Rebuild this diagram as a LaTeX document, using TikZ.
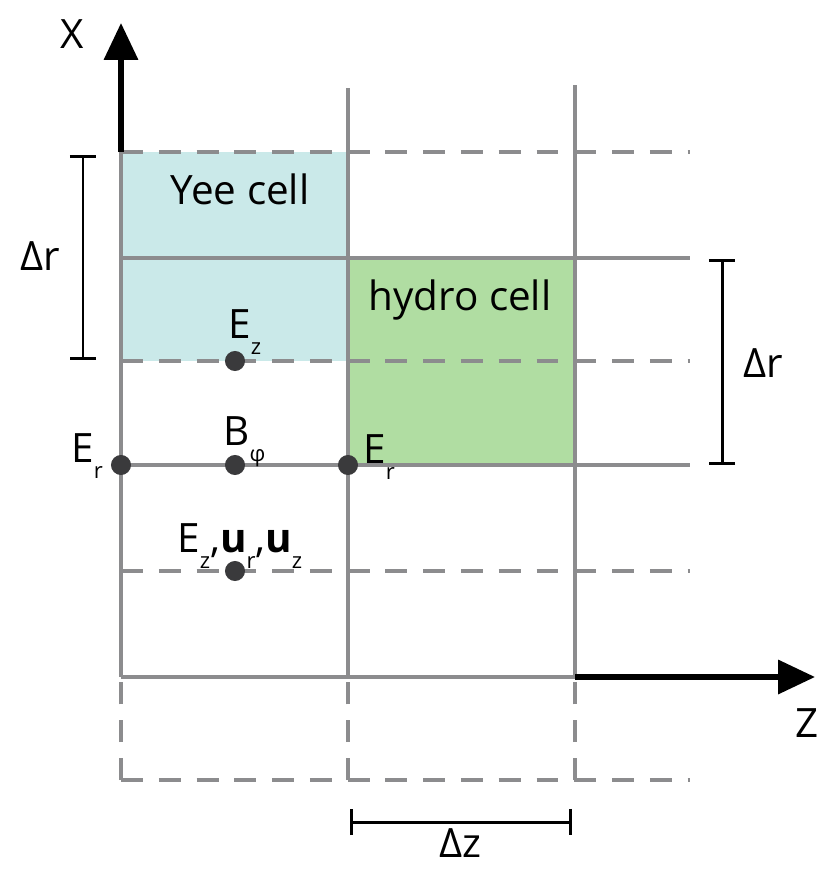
\documentclass[tikz,border=0pt]{standalone}
\usepackage{fontspec}
\setmainfont{Open Sans}
\usetikzlibrary{arrows.meta,positioning}
\definecolor{gridgray}{RGB}{140,140,142}
\definecolor{yeecyan}{RGB}{202,233,233}
\definecolor{hydrogreen}{RGB}{176,221,162}
\definecolor{ptgray}{RGB}{58,58,60}
\newcommand{\lsub}[1]{\raisebox{-0.42em}{\fontsize{12.5}{12.5}\selectfont #1}}
\tikzset{
 gridline/.style={draw=gridgray,line width=2.3pt},
 gridhalf/.style={gridline,dash pattern=on 12.5pt off 9pt},
 axis/.style={line width=3pt,-{Triangle[length=21pt,width=19pt]}},
 bracket/.style={line width=1.7pt,{Bar[width=15pt]}-{Bar[width=15pt]}},
 fieldpt/.style={circle,fill=ptgray,inner sep=0pt,minimum size=11.4pt},
 lbl/.style={font=\fontsize{23}{27}\selectfont,inner sep=0pt}
}

\begin{document}
\begin{tikzpicture}[x=0.02cm,y=-0.02cm]
\useasboundingbox (0,0) rectangle (816,869);
% cells
\fill[yeecyan] (121,152) rectangle (348,361);
\fill[hydrogreen] (348,258) rectangle (575,465);
% half-step (dashed) grid lines
\foreach \y in {152,361,571,780}
  \draw[gridhalf] (121,\y) -- (690,\y);
\foreach \x in {121,348,575}
  \draw[gridhalf] (\x,780) -- (\x,677);
% full-step grid lines
\foreach \y in {258,465}
  \draw[gridline] (121,\y) -- (690,\y);
\draw[gridline] (121,677) -- (575,677);
\draw[gridline] (121,152) -- (121,677);
\draw[gridline] (348,88) -- (348,677);
\draw[gridline] (575,85) -- (575,677);
% axes
\coordinate (xtip) at (121,23);
\coordinate (ztip) at (815,677);
\draw[axis] (121,152) -- (xtip);
\draw[axis] (575,677) -- (ztip);
\node[lbl,anchor=base] (xlbl) at (72,48) {X};
\node[lbl,anchor=base west] (zlbl) at (795,737) {Z};
% cell names
\node[lbl,anchor=base] (yee) at (240,204) {Yee cell};
\node[lbl,anchor=base] (hydro) at (460,310) {hydro cell};
% field points
\node[fieldpt] (ez) at (235,361) {};
\node[fieldpt] (erl) at (121,465) {};
\node[fieldpt] (bphi) at (235,465) {};
\node[fieldpt] (err) at (348,465) {};
\node[fieldpt] (ezu) at (235,571) {};
\node[lbl,anchor=base west] (ezlbl) at (228,338) {E\lsub{z}};
\node[lbl,anchor=base west] (erllbl) at (71,462) {E\lsub{r}};
\node[lbl,anchor=base west] (bphilbl) at (223,445) {B\lsub{φ}};
\node[lbl,anchor=base west] (errlbl) at (363,463) {E\lsub{r}};
\node[lbl,anchor=base west] (ezulbl) at (177,552)
  {E\lsub{z},\textbf{u}\lsub{r},\textbf{u}\lsub{z}};
% spacings
\coordinate (drl1) at (83,155);
\coordinate (drl2) at (83,360);
\coordinate (drr1) at (722,259);
\coordinate (drr2) at (722,465);
\coordinate (dz1) at (350,822);
\coordinate (dz2) at (572,822);
\draw[bracket] (drl1) -- (drl2);
\draw[bracket] (drr1) -- (drr2);
\draw[bracket] (dz1) -- (dz2);
\node[lbl,anchor=base] (drllbl) at (40,270) {Δr};
\node[lbl,anchor=base] (drrlbl) at (763,377) {Δr};
\node[lbl,anchor=base] (dzlbl) at (460,857) {Δz};
\end{tikzpicture}
\end{document}
